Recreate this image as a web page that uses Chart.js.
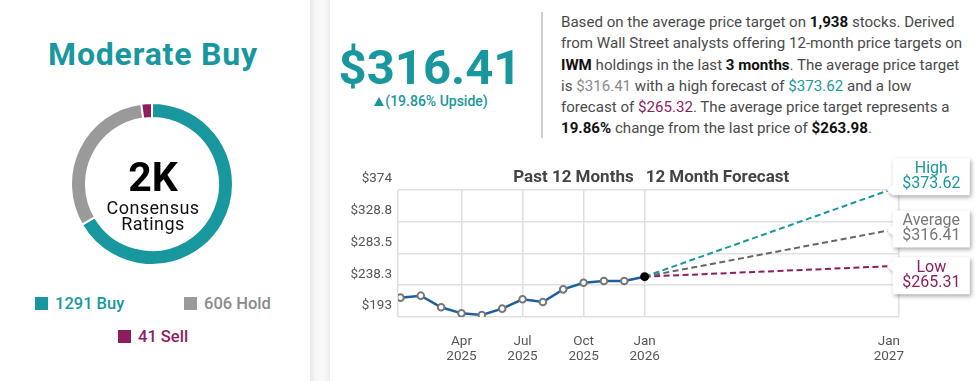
<!DOCTYPE html>
<html>
<head>
<meta charset="utf-8">
<script src="https://cdn.jsdelivr.net/npm/chart.js@4.4.1/dist/chart.umd.min.js"></script>
<style>
  body { margin: 0; width: 980px; height: 381px; background: #fff; font-family: Roboto, sans-serif; position: relative; overflow: hidden; }
  .abs { position: absolute; }
  #rating { left: 0; width: 306px; top: 38px; line-height: 32px; font-size: 32px; font-weight: 700; color: #18989e; text-align: center; letter-spacing: 0.8px; }
  #donutBox { left: 70px; top: 102px; width: 164px; height: 164px; }
  #donutCount { left: 53px; width: 200px; top: 157px; line-height: 41px; font-size: 41px; font-weight: 700; color: #000; text-align: center; }
  #donutSub { left: 53px; width: 200px; top: 200px; line-height: 16px; font-size: 18px; color: #111; text-align: center; letter-spacing: 0.4px; }
  .leg { position: absolute; line-height: 16px; font-size: 16.5px; font-weight: 500; white-space: nowrap; }
  .leg i { position: absolute; left: 0; top: 1px; width: 13px; height: 13px; }
  .leg span { position: absolute; left: 20px; top: 0; }
  #divider { left: 310px; top: 0; width: 20px; height: 381px; background: linear-gradient(to right, #e9e9e9, #f6f6f6 25%, #fafafa 60%, #f3f3f3 85%, #ececec); }
  #price { left: 330px; width: 200px; top: 43px; line-height: 49px; font-size: 49px; font-weight: 700; color: #18989e; text-align: center; }
  #upside { left: 330px; width: 202px; top: 93px; line-height: 16px; font-size: 14px; font-weight: 500; color: #18989e; text-align: center; }
  #upside em { display: inline-block; width: 0; height: 0; border-left: 5px solid transparent; border-right: 5px solid transparent; border-bottom: 9px solid #18989e; margin-right: 1px; vertical-align: 0px; }
  #sep { left: 541px; top: 12px; width: 1.5px; height: 126px; background: #cfcfcf; }
  #blurb { left: 561px; top: 12px; line-height: 21.3px; font-size: 15.1px; color: #4a4a4a; white-space: nowrap; }
  #blurb b { color: #111; font-weight: 700; }
  .c-avg { color: #8a8a8a; }
  .c-high { color: #18989e; }
  .c-low { color: #8c1d5e; }
  #chartBox { left: 330px; top: 155px; width: 650px; height: 226px; }
</style>
</head>
<body>
<div class="abs" id="rating">Moderate Buy</div>
<div class="abs" id="donutBox"><canvas id="donut" width="164" height="164"></canvas></div>
<div class="abs" id="donutCount">2K</div>
<div class="abs" id="donutSub">Consensus<br>Ratings</div>
<div id="legend"></div>
<div class="abs" id="divider"></div>
<div class="abs" id="price">$316.41</div>
<div class="abs" id="upside"><em></em>(19.86% Upside)</div>
<div class="abs" id="sep"></div>
<div class="abs" id="blurb">
Based on the average price target on <b>1,938</b> stocks. Derived<br>
from Wall Street analysts offering 12-month price targets on<br>
<b>IWM</b> holdings in the last <b>3 months</b>. The average price target<br>
is <span class="c-avg">$316.41</span> with a high forecast of <span class="c-high">$373.62</span> and a low<br>
forecast of <span class="c-low">$265.32</span>. The average price target represents a<br>
<b>19.86%</b> change from the last price of <b>$263.98</b>.
</div>
<div class="abs" id="chartBox"><canvas id="forecast" width="650" height="226"></canvas></div>

<script>
// ratings breakdown
const ratingLabels = ['Buy', 'Hold', 'Sell']
const ratingCounts = [1291, 606, 41]
const ratingColors = ['#18989e', '#9a9a9a', '#8c1d5e']

// price history, months counted from Jan 2025
const pastMonths = [0, 1, 2, 3, 4, 5, 6, 7, 8, 9, 10, 11, 12]
const pastPrices = [220.6, 223.4, 206.8, 198.2, 195.9, 204.9, 218.2, 214.4, 232.4, 241.9, 244.3, 244.3, 250.5]

// 12 month forecast
const forecastNames = ['High', 'Average', 'Low']
const forecastTargets = [373.62, 316.41, 265.31]
const forecastMonth = 24
const forecastColors = ['#18989e', '#666666', '#8c1d5e']
const forecastTextColors = ['#18989e', '#777777', '#8c1d5e']

// axis ticks
const xTickMonths = [3, 6, 9, 12, 24]
const xTickLabels = [['Apr', '2025'], ['Jul', '2025'], ['Oct', '2025'], ['Jan', '2026'], ['Jan', '2027']]
const yTickValues = [193, 238.3, 283.5, 328.8, 374]
const yTickLabels = ['$193', '$238.3', '$283.5', '$328.8', '$374']

const gridColor = '#e0e0e0'
const tickColor = '#555'

// legend under the donut
const legendSpots = [[35, 296], [184, 296], [118, 329]]
const legendTextColors = ['#18989e', '#8a8a8a', '#8c1d5e']
const legend = document.querySelector('#legend')
ratingLabels.forEach((label, i) => {
    legend.innerHTML += `<div class="leg" style="left:${legendSpots[i][0]}px;top:${legendSpots[i][1]}px;color:${legendTextColors[i]}">` +
        `<i style="background:${ratingColors[i]}"></i><span>${ratingCounts[i]} ${label}</span></div>`
})

new Chart(document.querySelector('#donut'), {
    type: 'doughnut',
    data: {
        labels: ratingLabels,
        datasets: [{
            data: ratingCounts,
            backgroundColor: ratingColors,
            borderColor: '#fff',
            borderWidth: 2
        }]
    },
    options: {
        responsive: false,
        animation: false,
        cutout: '81.5%',
        events: [],
        plugins: { legend: { display: false }, tooltip: { enabled: false } }
    }
})

const lastMonth = pastMonths[pastMonths.length - 1]
const lastPrice = pastPrices[pastPrices.length - 1]

// callout box offsets (px) relative to each forecast end point
const boxShift = [-32, -20, -9]

const forecastDecor = {
    id: 'forecastDecor',
    afterDatasetsDraw(chart) {
        const { ctx, chartArea, scales } = chart
        const xNow = scales.x.getPixelForValue(lastMonth)

        ctx.save()
        ctx.font = 'bold 17px Roboto'
        ctx.fillStyle = '#444'
        ctx.textBaseline = 'middle'
        ctx.textAlign = 'right'
        ctx.fillText('Past 12 Months', xNow - 11, chartArea.top - 12)
        ctx.textAlign = 'left'
        ctx.fillText('12 Month Forecast', xNow + 1, chartArea.top - 12)
        ctx.restore()

        forecastNames.forEach((name, i) => {
            const end = chart.getDatasetMeta(i + 1).data[1]
            const w = 77, h = 37
            const left = end.x + 4
            const top = end.y + boxShift[i]
            const py = Math.min(Math.max(end.y, top + 5), top + h - 5)

            ctx.save()
            ctx.shadowColor = 'rgba(0,0,0,0.35)'
            ctx.shadowBlur = 4
            ctx.shadowOffsetX = 1.5
            ctx.shadowOffsetY = 2
            ctx.fillStyle = '#fff'
            ctx.beginPath()
            ctx.moveTo(left, top)
            ctx.lineTo(left + w, top)
            ctx.lineTo(left + w, top + h)
            ctx.lineTo(left, top + h)
            ctx.lineTo(left, py + 5)
            ctx.lineTo(left - 6, py)
            ctx.lineTo(left, py - 5)
            ctx.closePath()
            ctx.fill()
            ctx.restore()

            ctx.save()
            ctx.font = '16px Roboto'
            ctx.fillStyle = forecastTextColors[i]
            ctx.textAlign = 'center'
            ctx.textBaseline = 'middle'
            ctx.fillText(name, left + w / 2, top + 10.5)
            ctx.fillText('$' + forecastTargets[i].toFixed(2), left + w / 2, top + 26)
            ctx.restore()
        })
    }
}

new Chart(document.querySelector('#forecast'), {
    type: 'line',
    data: {
        datasets: [
            {
                label: 'Past 12 Months',
                data: pastMonths.map((m, i) => ({ x: m, y: pastPrices[i] })),
                borderColor: '#1c5e9f',
                borderWidth: 2.5,
                tension: 0,
                pointRadius: pastMonths.map((m, i) => i === pastMonths.length - 1 ? 4.5 : 3.3),
                pointBorderWidth: pastMonths.map((m, i) => i === pastMonths.length - 1 ? 0 : 2),
                pointBackgroundColor: pastMonths.map((m, i) => i === pastMonths.length - 1 ? '#000' : '#fff'),
                pointBorderColor: pastMonths.map((m, i) => i === pastMonths.length - 1 ? '#000' : '#777')
            },
            ...forecastNames.map((name, i) => ({
                label: name,
                data: [{ x: lastMonth, y: lastPrice }, { x: forecastMonth, y: forecastTargets[i] }],
                borderColor: forecastColors[i],
                borderWidth: 2,
                borderDash: [6, 3.5],
                pointRadius: 0
            }))
        ]
    },
    options: {
        responsive: false,
        animation: false,
        events: [],
        layout: { padding: { top: 35, right: 81, left: 0, bottom: 0 } },
        plugins: { legend: { display: false }, tooltip: { enabled: false } },
        scales: {
            x: {
                type: 'linear',
                min: -0.12,
                max: 24.5,
                afterBuildTicks: scale => {
                    scale.ticks = [scale.min, ...xTickMonths, scale.max].map(v => ({ value: v }))
                },
                afterFit: scale => { scale.height = 64 },
                ticks: {
                    autoSkip: false,
                    maxRotation: 0,
                    padding: 17,
                    color: tickColor,
                    font: { family: 'Roboto', size: 13.5, lineHeight: 1.12 },
                    callback: v => {
                        const i = xTickMonths.indexOf(v)
                        return i < 0 ? '' : xTickLabels[i]
                    }
                },
                grid: {
                    drawTicks: false,
                    lineWidth: 1.5,
                    color: c => (c.tick && c.tick.value === forecastMonth) ? 'rgba(0,0,0,0)' : gridColor
                },
                border: { display: false }
            },
            y: {
                min: 193,
                max: 374,
                afterBuildTicks: scale => {
                    scale.ticks = yTickValues.map(v => ({ value: v }))
                },
                afterFit: scale => { scale.width = 68 },
                ticks: {
                    padding: 6,
                    labelOffset: -11,
                    color: tickColor,
                    font: { family: 'Roboto', size: 13.5 },
                    callback: v => yTickLabels[yTickValues.indexOf(v)]
                },
                grid: { drawTicks: false, lineWidth: 1.5, color: gridColor },
                border: { display: false }
            }
        }
    },
    plugins: [forecastDecor]
})
</script>
</body>
</html>
